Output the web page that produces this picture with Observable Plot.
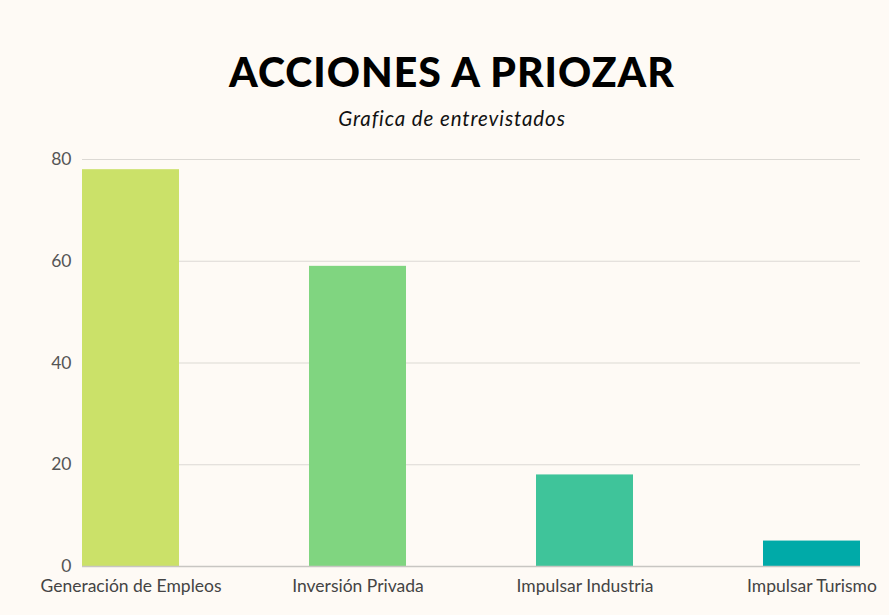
<!DOCTYPE html>
<html>
<head>
<meta charset="utf-8">
<script src="https://cdn.jsdelivr.net/npm/d3@7"></script>
<script src="https://cdn.jsdelivr.net/npm/@observablehq/plot@0.6"></script>
<style>
  html, body { margin: 0; padding: 0; background: #fefaf5; }
  #wrap { width: 889px; height: 615px; position: relative; background: #fefaf5; font-family: Lato, "Open Sans", sans-serif; }
  #title { position: absolute; top: 47px; left: 0; width: 904px; text-align: center; font-family: Lato, sans-serif; font-weight: 900; font-size: 41px; letter-spacing: 1px; color: #000; line-height: 50px; }
  #subtitle { position: absolute; top: 105px; left: 0; width: 904px; text-align: center; font-family: Lato, sans-serif; font-style: italic; font-size: 20.5px; color: #111; line-height: 26px; letter-spacing: 0.9px; }
  #chart { position: absolute; top: 140px; left: 0; }
</style>
</head>
<body>
<div id="wrap">
  <div id="title">ACCIONES A PRIOZAR</div>
  <div id="subtitle">Grafica de entrevistados</div>
  <div id="chart"></div>
</div>
<script>
const categories = ["Generación de Empleos", "Inversión Privada", "Impulsar Industria", "Impulsar Turismo"];
const values = [78, 59, 18, 5];
const colors = ["#cbe169", "#80d580", "#3fc49a", "#00aaa8"];
const yTicks = [0, 20, 40, 60, 80];

const data = categories.map((c, i) => ({category: c, value: values[i], color: colors[i]}));

const plot = Plot.plot({
  width: 889,
  height: 475,
  marginTop: 19,
  marginBottom: 49,
  marginLeft: 82,
  marginRight: 29,
  style: {background: "transparent", fontFamily: "Lato, sans-serif"},
  x: {domain: categories, paddingInner: 0.573, paddingOuter: 0, label: null, tickSize: 0},
  y: {domain: [0, 80], ticks: yTicks, label: null, tickSize: 0},
  marks: [
    Plot.gridY(yTicks.filter(d => d > 0), {stroke: "#dcd9d4", strokeOpacity: 1, strokeWidth: 1.2}),
    Plot.barY(data, {x: "category", y: "value", fill: "color"}),
    Plot.ruleY([0], {stroke: "#c8c6c2", strokeWidth: 1.5}),
    Plot.axisY({ticks: yTicks, tickSize: 0, tickPadding: 11, fontSize: 17.5, fill: "#555", label: null}),
    Plot.axisX({tickSize: 0, tickPadding: 13, fontSize: 17.5, fill: "#444", label: null})
  ]
});
document.getElementById("chart").appendChild(plot);
</script>
</body>
</html>
